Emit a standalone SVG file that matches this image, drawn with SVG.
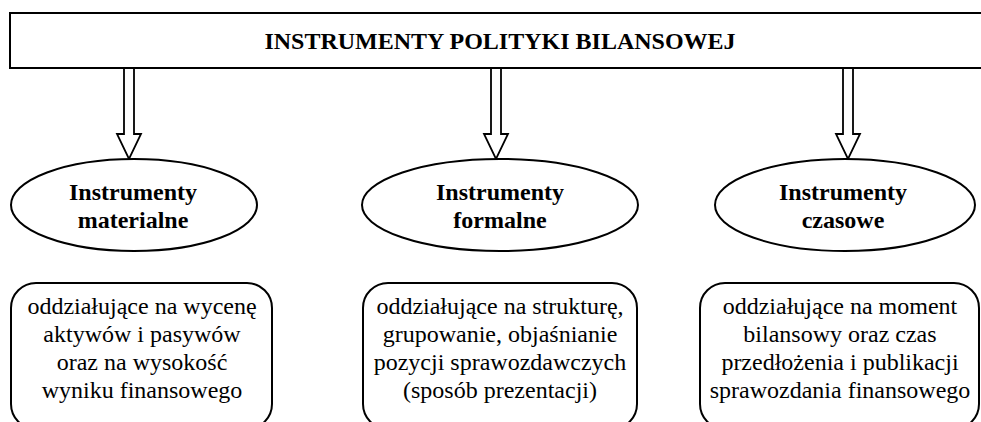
<svg xmlns="http://www.w3.org/2000/svg" width="981" height="422" viewBox="0 0 981 422">
<style>
.shape{fill:#fff;stroke:#000;stroke-width:2}
.arr{fill:#fff;stroke:#000;stroke-width:1.8;stroke-linejoin:miter}
.t{font-family:"Liberation Serif","Times New Roman",serif;fill:#000;text-anchor:middle}
.b{font-weight:bold;font-size:24px}
.r{font-size:24px}
</style>
<rect width="981" height="422" fill="#fff"/>
<g id="connectors">
<polygon class="arr" points="124,68 124,134 117,134 129,159 141,134 134,134 134,68"/>
<polygon class="arr" points="491,68 491,134 484,134 496,159 508,134 501,134 501,68"/>
<polygon class="arr" points="843,68 843,134 836,134 848,159 860,134 853,134 853,68"/>
</g>
<g id="title">
<rect class="shape" x="10" y="13" width="980" height="55"/>
<text class="t b" x="500" y="49">INSTRUMENTY POLITYKI BILANSOWEJ</text>
</g>
<g id="ell1">
<ellipse class="shape" cx="134" cy="205" rx="123" ry="46"/>
<text class="t b" x="133" y="200">Instrumenty</text>
<text class="t b" x="133" y="228">materialne</text>
</g>
<g id="ell2">
<ellipse class="shape" cx="500" cy="205" rx="138" ry="46"/>
<text class="t b" x="500" y="200">Instrumenty</text>
<text class="t b" x="500" y="228">formalne</text>
</g>
<g id="ell3">
<ellipse class="shape" cx="845" cy="205" rx="130" ry="46"/>
<text class="t b" x="843" y="200">Instrumenty</text>
<text class="t b" x="843" y="228">czasowe</text>
</g>
<g id="box1">
<rect class="shape" x="11" y="283" width="261" height="146" rx="25" ry="25"/>
<text class="t r" x="142" y="314">oddziałujące na wycenę</text>
<text class="t r" x="142" y="342">aktywów i pasywów</text>
<text class="t r" x="142" y="370">oraz na wysokość</text>
<text class="t r" x="142" y="398">wyniku finansowego</text>
</g>
<g id="box2">
<rect class="shape" x="363" y="283" width="274" height="146" rx="25" ry="25"/>
<text class="t r" x="500" y="314">oddziałujące na strukturę,</text>
<text class="t r" x="500" y="342">grupowanie, objaśnianie</text>
<text class="t r" x="500" y="370">pozycji sprawozdawczych</text>
<text class="t r" x="500" y="398">(sposób prezentacji)</text>
</g>
<g id="box3">
<rect class="shape" x="700" y="283" width="279" height="146" rx="25" ry="25"/>
<text class="t r" x="840" y="314">oddziałujące na moment</text>
<text class="t r" x="840" y="342">bilansowy oraz czas</text>
<text class="t r" x="840" y="370">przedłożenia i publikacji</text>
<text class="t r" x="840" y="398">sprawozdania finansowego</text>
</g>
</svg>
